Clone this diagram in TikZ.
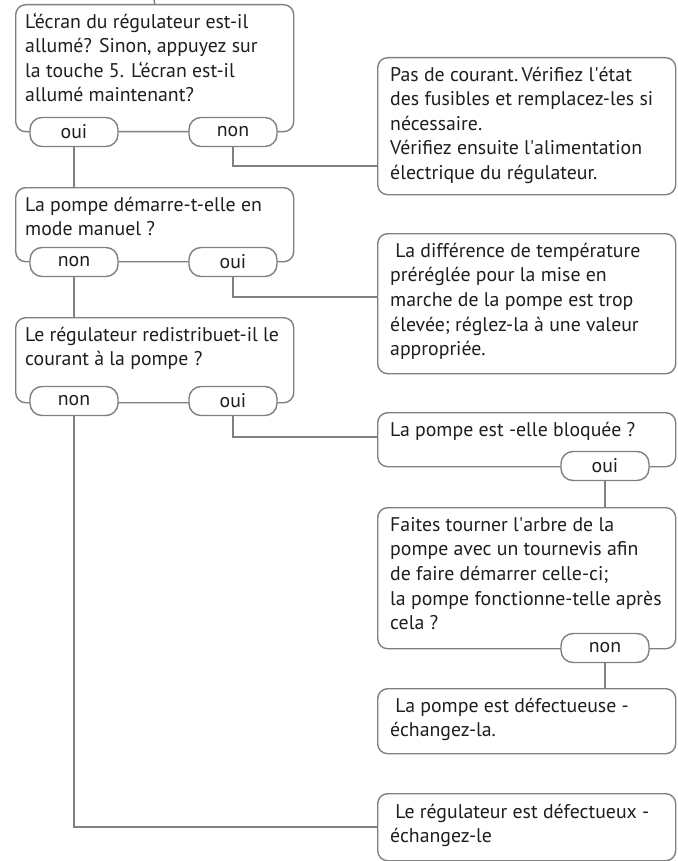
\documentclass[tikz,border=0pt]{standalone}
\usepackage{fontspec}
\setmainfont{PT Sans}
\usetikzlibrary{calc}
\definecolor{lc}{HTML}{808080}
\definecolor{tc}{HTML}{1E1E1E}
\newcommand{\fstrut}{\rule{0pt}{20pt}}
\tikzset{
  box/.style={draw=lc, line width=1.4pt, rounded corners=10pt, anchor=north west, inner sep=0pt, minimum width=298pt},
  lbox/.style={box, minimum width=278pt},
  pill/.style={draw=lc, fill=white, line width=1.4pt, rounded corners=12pt, minimum width=88pt, minimum height=29pt, inner sep=0pt, text=tc, font=\fontsize{19.8}{24}\selectfont},
  txt/.style={anchor=north west, align=left, inner sep=0pt, text=tc, font=\fontsize{19.8}{24.6}\selectfont},
  conn/.style={draw=lc, line width=1.4pt}
}
\begin{document}
\begin{tikzpicture}[x=1pt,y=-1pt]
\useasboundingbox (0,0) rectangle (677,861);
% boxes
\node[lbox, minimum height=127pt] (b1) at (15,4) {};
\node[box, minimum height=137pt] (P) at (377,57) {};
\node[lbox, minimum height=74pt] (b2) at (15,187) {};
\node[box, minimum height=140pt] (D) at (377,233) {};
\node[lbox, minimum height=85pt] (b3) at (15,317) {};
\node[box, minimum height=54pt] (B) at (377,412) {};
\node[box, minimum height=141pt] (F) at (377,507) {};
\node[box, minimum height=65pt] (E) at (377,688) {};
\node[box, minimum height=67pt] (R) at (377,793) {};
% texts (y = first baseline - 20)
\node[txt] (t1) at (25,8) {\fstrut L‘écran du régulateur est-il\\allumé? Sinon, appuyez sur\\la touche 5. L‘écran est-il\\allumé maintenant?};
\node[txt] (tP) at (390,61) {\fstrut Pas de courant.\,Vérifiez l\textquotesingle état\\des fusibles et remplacez-les si\\nécessaire.\\Vérifiez ensuite l\textquotesingle alimentation\\électrique du régulateur.};
\node[txt] (t2) at (25,191) {\fstrut La pompe démarre-t-elle en\\mode manuel ?};
\node[txt] (tD) at (390,237) {\fstrut\ La différence de température\\préréglée pour la mise en\\marche de la pompe est trop\\élevée; réglez-la à une valeur\\appropriée.};
\node[txt] (t3) at (25,321) {\fstrut Le régulateur redistribuet-il le\\courant à la pompe ?};
\node[txt] (tB) at (390,416) {\fstrut La pompe est -elle bloquée ?};
\node[txt] (tF) at (390,511) {\fstrut Faites tourner l\textquotesingle arbre de la\\pompe avec un tournevis afin\\de faire démarrer celle-ci;\\la pompe fonctionne-telle après\\cela ?};
\node[txt] (tE) at (390,692) {\fstrut\ La pompe est défectueuse -\\échangez-la.};
\node[txt] (tR) at (390,798) {\fstrut\ Le régulateur est défectueux -\\échangez-le};
% pills
\node[pill] (p1a) at (74,132) {oui};
\node[pill] (p1b) at (233,132) {non};
\node[pill] (p2a) at (74,262) {non};
\node[pill] (p2b) at (233,262) {oui};
\node[pill] (p3a) at (74,401) {non};
\node[pill] (p3b) at (233,401) {oui};
\node[pill] (p4) at (605,466) {oui};
\node[pill] (p5) at (605,648) {non};
% connectors
\coordinate (top) at (154,0);
\coordinate (cP) at (377,166);
\coordinate (cD) at (377,297);
\coordinate (cB) at (377,437);
\coordinate (cR) at (377,827);
\draw[conn] (top) -- (b1.north);
\draw[conn] (p1a.south) -- (p1a.south |- b2.north);
\draw[conn] (p1b.south) |- (cP);
\draw[conn] (p2a.south) -- (p2a.south |- b3.north);
\draw[conn] (p2b.south) |- (cD);
\draw[conn] (p3b.south) |- (cB);
\draw[conn] (p3a.south) |- (cR);
\draw[conn] (p4.south) -- (p4.south |- F.north);
\draw[conn] (p5.south) -- (p5.south |- E.north);
\end{tikzpicture}
\end{document}
